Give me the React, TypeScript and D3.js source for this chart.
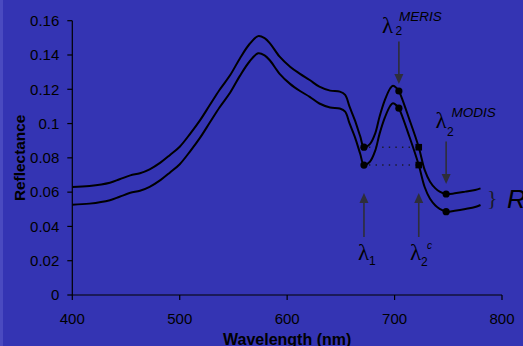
import React from "react";
import * as d3 from "d3";

// Reflectance spectra (two curves, offset), wavelength in nm
const wavelengths = [
  400, 416, 435, 444, 454, 463, 472, 482, 491, 500, 510, 519, 528, 537, 547, 556, 565, 573, 579,
  584, 593, 603, 612, 621, 630, 640, 649, 654, 658, 663, 668, 671.5, 677, 682, 686, 691, 696,
  698.5, 702, 704, 714, 722.5, 728, 733, 738, 742, 748, 756, 766, 775, 780,
];
const upperRefl = [
  0.063, 0.0636, 0.0655, 0.0675, 0.0698, 0.071, 0.0733, 0.0772, 0.0817, 0.0865, 0.0943, 0.102,
  0.1108, 0.1196, 0.1283, 0.138, 0.1464, 0.151, 0.1498, 0.1468, 0.139, 0.133, 0.129, 0.1254,
  0.1215, 0.1192, 0.1186, 0.1167, 0.11, 0.102, 0.0926, 0.0862, 0.088, 0.0943, 0.104, 0.1138,
  0.1206, 0.122, 0.1206, 0.119, 0.102, 0.0862, 0.073, 0.0661, 0.0622, 0.0603, 0.0589, 0.0593,
  0.0603, 0.0613, 0.0622,
];
const lowerRefl = [
  0.0527, 0.0533, 0.0553, 0.0573, 0.0596, 0.0608, 0.0631, 0.067, 0.0715, 0.0763, 0.0841, 0.0918,
  0.1006, 0.1094, 0.1181, 0.1278, 0.1362, 0.141, 0.1398, 0.1368, 0.129, 0.123, 0.119, 0.1156,
  0.1117, 0.1094, 0.1088, 0.1069, 0.1002, 0.0922, 0.0824, 0.0758, 0.0777, 0.0842, 0.094, 0.1036,
  0.1104, 0.1118, 0.1105, 0.109, 0.092, 0.0758, 0.063, 0.0561, 0.0522, 0.0503, 0.0486, 0.0492,
  0.0502, 0.0513, 0.0525,
];

// Band positions marked on the curves
const lambda1 = 671.5;
const lambda2Meris = 704;
const lambda2c = 722.5;
const lambda2Modis = 748;

const xTicks = [400, 500, 600, 700, 800];
const yTicks = [0, 0.02, 0.04, 0.06, 0.08, 0.1, 0.12, 0.14, 0.16];

const W = 523;
const H = 346;
const left = 72.3;
const right = 502;
const top = 20.7;
const bottom = 295;

const x = d3.scaleLinear().domain([400, 800]).range([left, right]);
const y = d3.scaleLinear().domain([0, 0.16]).range([bottom, top]);

const valueAt = (series: number[], wl: number) => series[wavelengths.indexOf(wl)];

const line = d3
  .line<number>()
  .x((_, i) => x(wavelengths[i]))
  .y((d) => y(d))
  .curve(d3.curveCatmullRom.alpha(0.5));

const font = "'Liberation Sans', Arial, sans-serif";
const lamFont = "'Liberation Serif', 'Times New Roman', serif";
const arrowColor = "#2e2e3a";

function Arrow({ x0, y0, y1 }: { x0: number; y0: number; y1: number }) {
  // y0 = tail, y1 = tip
  const dir = y1 > y0 ? 1 : -1;
  const head = 10;
  return (
    <g>
      <line x1={x0} y1={y0} x2={x0} y2={y1 - dir * head} stroke={arrowColor} strokeWidth={1.6} />
      <path
        d={`M${x0},${y1} L${x0 - 4.5},${y1 - dir * head} L${x0 + 4.5},${y1 - dir * head} Z`}
        fill={arrowColor}
      />
    </g>
  );
}

export default function App() {
  const markers = [lambda1, lambda2Meris, lambda2Modis];
  const squares = [lambda2c];
  return (
    <svg
      width={W}
      height={H}
      style={{ position: "absolute", left: 0, top: 0 }}
      xmlns="http://www.w3.org/2000/svg"
    >
      <rect x={0} y={0} width={W} height={H} fill="#3434b3" />
      <rect x={0} y={0} width={3} height={H} fill="#4a4ac0" />

      {/* axes */}
      <line x1={left} y1={top} x2={left} y2={bottom} stroke="#000" strokeWidth={1.2} />
      <line x1={left} y1={bottom} x2={right} y2={bottom} stroke="#000" strokeWidth={1.2} />
      {yTicks.map((t) => (
        <g key={"y" + t}>
          <line x1={left - 5} x2={left} y1={y(t)} y2={y(t)} stroke="#000" strokeWidth={1.2} />
          <text
            x={left - 13}
            y={y(t) + 5.3}
            textAnchor="end"
            fontFamily={font}
            fontSize={15}
            fill="#000"
          >
            {String(t)}
          </text>
        </g>
      ))}
      {xTicks.map((t) => (
        <g key={"x" + t}>
          <line x1={x(t)} x2={x(t)} y1={bottom} y2={bottom + 5} stroke="#000" strokeWidth={1.2} />
          <text
            x={x(t)}
            y={323.5}
            textAnchor="middle"
            fontFamily={font}
            fontSize={15}
            fill="#000"
          >
            {t}
          </text>
        </g>
      ))}
      <text
        x={x(600)}
        y={344.5}
        textAnchor="middle"
        fontFamily={font}
        fontSize={16}
        fontWeight="bold"
        fill="#000"
      >
        Wavelength (nm)
      </text>
      <text
        transform={`translate(25,${(top + bottom) / 2}) rotate(-90)`}
        textAnchor="middle"
        fontFamily={font}
        fontSize={15.4}
        fontWeight="bold"
        fill="#000"
      >
        Reflectance
      </text>

      {/* dotted guides from lambda1 to lambda2c */}
      {[upperRefl, lowerRefl].map((s, i) => (
        <line
          key={"g" + i}
          x1={x(lambda1) + 5}
          x2={x(lambda2c) - 3}
          y1={y(valueAt(s, lambda1))}
          y2={y(valueAt(s, lambda2c))}
          stroke="#1a1a2a"
          strokeWidth={1.4}
          strokeDasharray="1.4,5.2"
        />
      ))}

      {/* spectra */}
      <path d={line(upperRefl) || ""} fill="none" stroke="#000" strokeWidth={2} />
      <path d={line(lowerRefl) || ""} fill="none" stroke="#000" strokeWidth={2} />

      {[upperRefl, lowerRefl].map((s, i) => (
        <g key={"m" + i}>
          {markers.map((wl) => (
            <circle key={wl} cx={x(wl)} cy={y(valueAt(s, wl))} r={3.6} fill="#000" />
          ))}
          {squares.map((wl) => (
            <rect
              key={wl}
              x={x(wl) - 3.3}
              y={y(valueAt(s, wl)) - 3.3}
              width={6.6}
              height={6.6}
              fill="#000"
            />
          ))}
        </g>
      ))}

      {/* annotations */}
      <Arrow x0={x(lambda2Meris)} y0={41.5} y1={84} />
      <Arrow x0={x(lambda2Modis)} y0={141.5} y1={184} />
      <Arrow x0={x(lambda1)} y0={237} y1={193} />
      <Arrow x0={x(lambda2c)} y0={237} y1={193} />

      <text x={382} y={33} fontFamily={lamFont} fontSize={23} fill="#000">
        λ
      </text>
      <text x={395.5} y={35} fontFamily={font} fontSize={12} fill="#000">
        2
      </text>
      <text x={399} y={20.7} fontFamily={font} fontSize={13.5} fontStyle="italic" fill="#000">
        MERIS
      </text>

      <text x={435.5} y={128} fontFamily={lamFont} fontSize={23} fill="#000">
        λ
      </text>
      <text x={447} y={136} fontFamily={font} fontSize={12} fill="#000">
        2
      </text>
      <text x={451.5} y={117.3} fontFamily={font} fontSize={13.5} fontStyle="italic" fill="#000">
        MODIS
      </text>

      <text x={358} y={260} fontFamily={lamFont} fontSize={23} fill="#000">
        λ
      </text>
      <text x={369} y={265} fontFamily={font} fontSize={12} fill="#000">
        1
      </text>

      <text x={410} y={260} fontFamily={lamFont} fontSize={23} fill="#000">
        λ
      </text>
      <text x={421} y={266} fontFamily={font} fontSize={12} fill="#000">
        2
      </text>
      <text x={427} y={248.5} fontFamily={font} fontSize={10} fontStyle="italic" fill="#000">
        c
      </text>

      <text x={487} y={205} fontFamily={lamFont} fontSize={22} fill="#1a1a2a">
        {"}"}
      </text>
      <text x={507} y={208} fontFamily={font} fontSize={26} fontStyle="italic" fill="#000">
        R
      </text>
    </svg>
  );
}
